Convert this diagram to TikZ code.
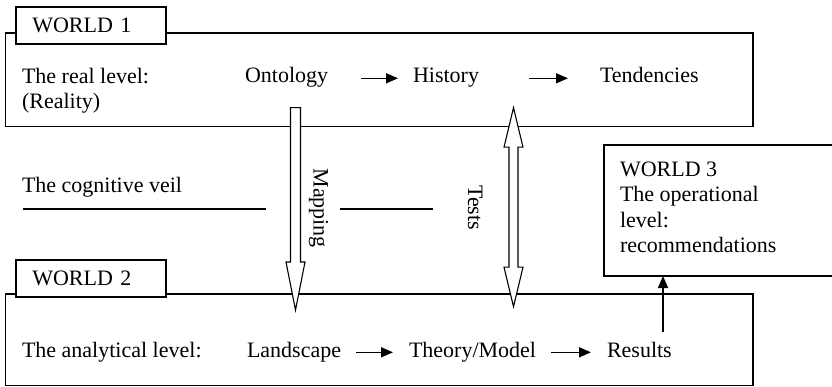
\documentclass[tikz,border=0pt]{standalone}
\usepackage{fontspec}
\setmainfont{Liberation Serif}
\usetikzlibrary{arrows.meta,calc}
\begin{document}
\begin{tikzpicture}[x=1pt,y=-1pt,
  txt/.style={inner sep=0pt,outer sep=0pt,anchor=base west,font=\fontsize{22}{25.3}\selectfont},
  world/.style={draw,line width=1.2pt,inner sep=0pt,outer sep=0pt,anchor=north west},
  tag/.style={draw,fill=white,line width=1.2pt,outer sep=0pt,anchor=north west,
    minimum height=37pt,text width=117.4pt,inner xsep=16.3pt,inner ysep=0pt,align=left,
    font=\fontsize{22}{25.3}\selectfont},
  arr/.style={-{Triangle[length=12pt,width=10pt]},line width=1.5pt},
  hollow/.style={draw,fill=white,line width=1.1pt,line join=miter},
  veil/.style={line width=1.2pt}]
\useasboundingbox (0,0) rectangle (832,387);
% boxes
\node[world,minimum width=747.5pt,minimum height=93.5pt] (w1) at (5.5,33) {};
\node[world,minimum width=747.5pt,minimum height=91.5pt] (w2) at (5.5,294) {};
\node[world,minimum width=230pt,minimum height=131pt] (w3) at (604,145) {};
\node[tag] (w1tag) at (16,7) {WORLD 1};
% world 1 contents
\node[txt,align=left,anchor=north west] (real) at (22,68) {The real level:\\(Reality)};
\node[txt] (onto) at (245,83) {Ontology};
\node[txt] (hist) at (413,83) {History};
\node[txt] (tend) at (600,83) {Tendencies};
\draw[arr,shorten <=33pt,shorten >=15pt] ([yshift=4.7pt]onto.base east) -- ([yshift=4.7pt]hist.base west);
\draw[arr,shorten <=50pt,shorten >=32pt] ([yshift=4.7pt]hist.base east) -- ([yshift=4.7pt]tend.base west);
% cognitive veil
\node[txt] (veil) at (22,193) {The cognitive veil};
\coordinate (v1a) at (22.5,209);
\coordinate (v1b) at (266,209);
\coordinate (v2a) at (340,209);
\coordinate (v2b) at (433,209);
\draw[veil] (v1a) -- (v1b);
\draw[veil] (v2a) -- (v2b);
% world 3
\node[txt,align=left,anchor=north west] (w3txt) at (620,162) {WORLD 3\\The operational\\level:\\recommendations};
% world 2 contents
\node[tag] (w2tag) at (16,260) {WORLD 2};
\node[txt] (anal) at (22,357) {The analytical level:};
\node[txt] (land) at (247,357) {Landscape};
\node[txt] (theo) at (409,357) {Theory/Model};
\node[txt] (res) at (607,357) {Results};
\draw[arr,shorten <=15pt,shorten >=16pt] ([yshift=4.7pt]land.base east) -- ([yshift=4.7pt]theo.base west);
\draw[arr,shorten <=15pt,shorten >=16pt] ([yshift=4.7pt]theo.base east) -- ([yshift=4.7pt]res.base west);
\coordinate (rtop) at (663,332);
\draw[arr] (rtop) -- (rtop |- w3.south);
% mapping arrow
\coordinate (mapS) at (295.5,107.7);
\coordinate (mapT) at (295.5,310);
\draw[hollow] ([xshift=-5pt]mapS) -- ([xshift=5pt]mapS) -- ([xshift=5pt,yshift=48pt]mapT)
  -- ([xshift=9.5pt,yshift=48pt]mapT) -- (mapT) -- ([xshift=-9.5pt,yshift=48pt]mapT)
  -- ([xshift=-5pt,yshift=48pt]mapT) -- cycle;
\node[txt,rotate=-90] (map) at (313.5,168.5) {Mapping};
% tests arrow
\coordinate (tsT) at (513.5,107.7);
\coordinate (tsB) at (513.5,306.7);
\draw[hollow] (tsT) -- ([xshift=9.5pt,yshift=-39.5pt]tsT) -- ([xshift=4.5pt,yshift=-39.5pt]tsT)
  -- ([xshift=4.5pt,yshift=39.5pt]tsB) -- ([xshift=9.5pt,yshift=39.5pt]tsB) -- (tsB)
  -- ([xshift=-9.5pt,yshift=39.5pt]tsB) -- ([xshift=-4.5pt,yshift=39.5pt]tsB)
  -- ([xshift=-4.5pt,yshift=-39.5pt]tsT) -- ([xshift=-9.5pt,yshift=-39.5pt]tsT) -- cycle;
\node[txt,rotate=-90] (tests) at (468,185.3) {Tests};
\end{tikzpicture}
\end{document}
